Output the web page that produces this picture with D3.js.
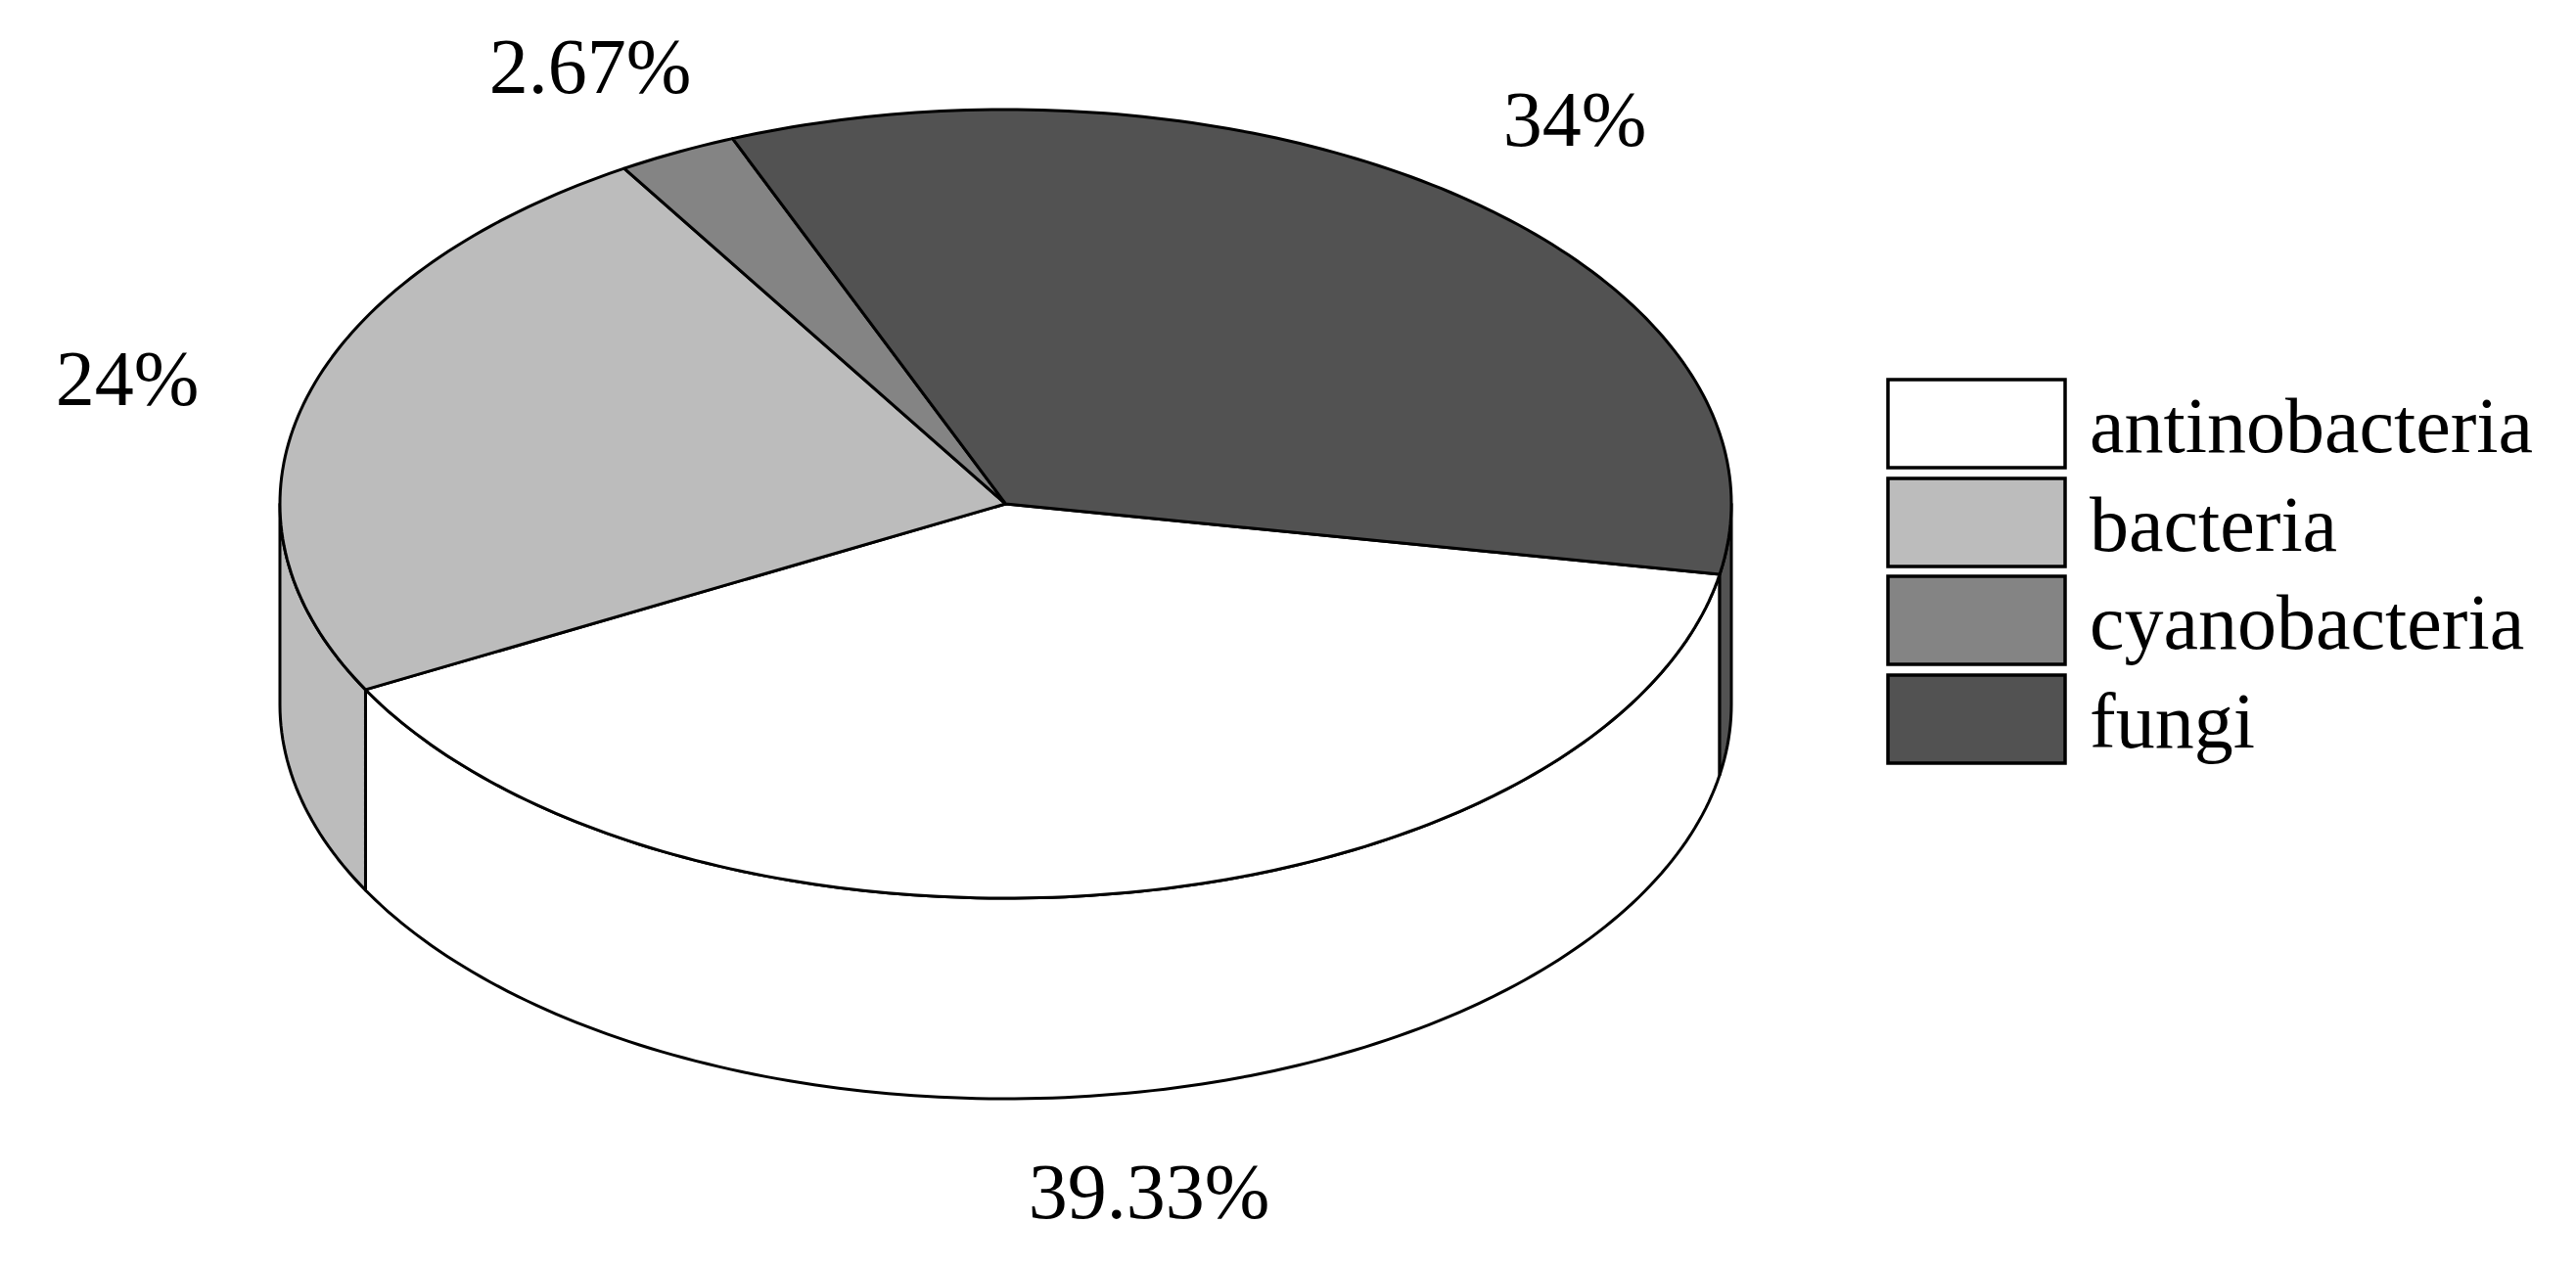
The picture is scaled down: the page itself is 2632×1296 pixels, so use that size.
<!DOCTYPE html>
<html>
<head>
<meta charset="utf-8">
<style>
  html, body { margin: 0; padding: 0; background: #fff; }
  svg { display: block; }
  text { font-family: "Liberation Serif", serif; fill: #000; }
</style>
<script src="https://cdn.jsdelivr.net/npm/d3@7"></script>
</head>
<body>
<script>
const categories = ['antinobacteria', 'bacteria', 'cyanobacteria', 'fungi'];
const shares = [39.33, 24, 2.67, 34];
const shareLabels = ['39.33%', '24%', '2.67%', '34%'];
const greys = ['#ffffff', '#bcbcbc', '#848484', '#525252'];

// label anchors, in page pixels, same order as the categories
const labelX = [1174, 130, 603, 1609];
const labelY = [1245, 414, 95, 149];

const width = 2632, height = 1296;
const cx = 1027.5, cy = 515, rx = 741.5, ry = 403, depth = 205;
const fontSize = 80;
const strokeW = 3;

const svg = d3.select('body').append('svg')
  .attr('width', width)
  .attr('height', height);

const x = d3.scaleLinear().domain([-1, 1]).range([cx - rx, cx + rx]);
const y = d3.scaleLinear().domain([-1, 1]).range([cy - ry, cy + ry]);

// d3.pie angles: 0 at 12 o'clock, going clockwise
const start = (100.3 * Math.PI) / 180;
const pie = d3.pie().sort(null).startAngle(start).endAngle(start + 2 * Math.PI);
const slices = pie(shares).map((s, i) => ({...s, i}));

const ex = a => x(Math.sin(a));
const ey = a => y(-Math.cos(a));

const sample = (a0, a1) => {
  const step = Math.PI / 180;
  return [...d3.range(a0, a1, step), a1];
};

const rim = d3.area().x(ex).y0(ey).y1(a => ey(a) + depth);
const outline = d3.line().x(d => d[0]).y(d => d[1]);

// side wall first, only the part of each slice facing the viewer
const frontFrom = Math.PI / 2, frontTo = 3 * Math.PI / 2;
const walls = [];
slices.forEach(s => {
  [0, 2 * Math.PI].forEach(turn => {
    const a0 = Math.max(s.startAngle, frontFrom + turn);
    const a1 = Math.min(s.endAngle, frontTo + turn);
    if (a1 > a0) walls.push({i: s.i, a0, a1});
  });
});

const strokeStyle = sel => sel
  .attr('stroke', '#000')
  .attr('stroke-width', strokeW)
  .attr('stroke-linejoin', 'round');

svg.append('g').selectAll('path')
  .data(walls)
  .join('path')
  .attr('d', d => rim(sample(d.a0, d.a1)))
  .attr('fill', d => greys[d.i])
  .call(strokeStyle);

svg.append('g').selectAll('path')
  .data(slices)
  .join('path')
  .attr('d', s => outline([[cx, cy], ...sample(s.startAngle, s.endAngle).map(a => [ex(a), ey(a)])]) + 'Z')
  .attr('fill', s => greys[s.i])
  .call(strokeStyle);

svg.append('g').selectAll('text')
  .data(shareLabels)
  .join('text')
  .attr('x', (d, i) => labelX[i])
  .attr('y', (d, i) => labelY[i])
  .attr('text-anchor', 'middle')
  .attr('font-size', fontSize)
  .text(d => d);

// legend
const legendY = d3.scaleBand().domain(categories).range([388, 780]).paddingInner(0.106).paddingOuter(0);
const legend = svg.append('g').selectAll('g')
  .data(categories)
  .join('g')
  .attr('transform', d => `translate(1929,${Math.round(legendY(d))})`);

legend.append('rect')
  .attr('width', 181)
  .attr('height', legendY.bandwidth())
  .attr('fill', (d, i) => greys[i])
  .attr('stroke', '#000')
  .attr('stroke-width', 3.5);

legend.append('text')
  .attr('x', 206)
  .attr('y', 74)
  .attr('font-size', fontSize)
  .text(d => d);
</script>
</body>
</html>
